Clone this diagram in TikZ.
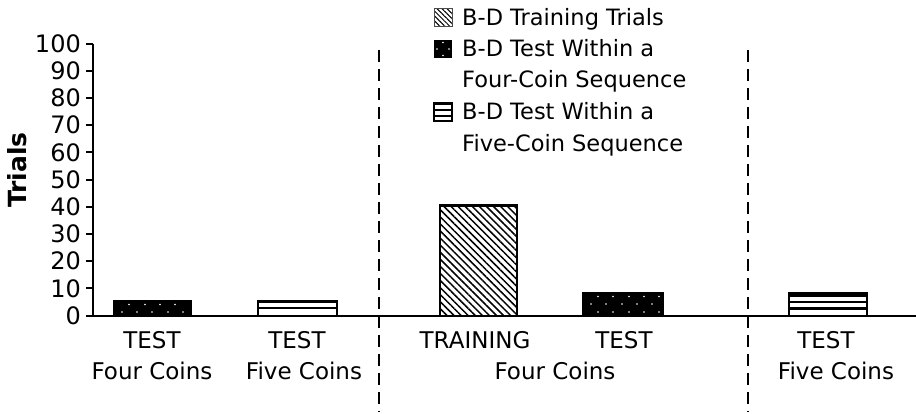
\documentclass[tikz,border=0pt]{standalone}
\usepackage{fontspec}
\setmainfont{DejaVu Sans}
\usetikzlibrary{patterns.meta}
\begin{document}
\begin{tikzpicture}[x=1pt,y=-1pt,
  axisline/.style={line width=2pt},
  divider/.style={line width=2pt, dash pattern=on 12pt off 7pt},
  barframe/.style={draw=black, line width=2.2pt},
  hatchfill/.style={pattern={Lines[angle=-45,distance=5pt,line width=1.5pt]}},
  ticklab/.style={font=\fontsize{24}{26}\selectfont, anchor=east, inner sep=0pt},
  catlab/.style={font=\fontsize{23}{26}\selectfont, inner sep=0pt},
  leglab/.style={font=\fontsize{22.5}{31}\selectfont, anchor=base west, inner sep=0pt, align=left},
  wdot/.style={fill=white, draw=none}
]
\useasboundingbox (0,0) rectangle (916,413);

% axis
\draw[axisline] (93,43.5) -- (93,316);
\draw[axisline] (86,316) -- (916,316);
\foreach \v in {0,10,...,100}{
  \draw[axisline] (86,{315.5-2.72*\v}) -- (93,{315.5-2.72*\v});
  \node[ticklab] (t\v) at (81,{315.5-2.72*\v}) {\v};
}
\node[rotate=90, font=\bfseries\fontsize{25}{28}\selectfont, inner sep=0pt] (ylab) at (17,170) {Trials};

% dividers
\draw[divider] (379,50) -- (379,412);
\draw[divider] (748,50) -- (748,412);

% bar 1: four-coin test (black, white dots)
\fill[black] (114,301) rectangle (191,316);
\foreach \x in {129,145,160,175} \fill[wdot] (\x,304.5) circle (0.9);
\foreach \x in {122,137,152,168,183} \fill[wdot] (\x,312) circle (0.9);
\draw[barframe] (114,301.5) rectangle (191,316);

% bar 2: five-coin test (stripes)
\begin{scope}
  \clip (258,301) rectangle (337,316);
  \fill[white] (258,301) rectangle (337,316);
  \foreach \y in {302,308} \draw[line width=2.6pt] (250,\y) -- (345,\y);
\end{scope}
\draw[barframe] (258,301.5) rectangle (337,316);

% bar 3: training (hatched)
\fill[white] (440,205) rectangle (517,316);
\fill[hatchfill] (440,205) rectangle (517,316);
\draw[barframe] (440,205.5) rectangle (517,316);

% bar 4: four-coin test
\fill[black] (583,292) rectangle (663,316);
\foreach \x in {598,613,629,644,659} {\fill[wdot] (\x,296.5) circle (0.9); \fill[wdot] (\x,312) circle (0.9);}
\foreach \x in {591,606,622,637,652} \fill[wdot] (\x,304) circle (0.9);
\draw[barframe] (583,293) rectangle (663,316);

% bar 5: five-coin test
\begin{scope}
  \clip (789,292) rectangle (867,316);
  \fill[white] (789,292) rectangle (867,316);
  \draw[line width=3.5pt] (780,295.5) -- (875,295.5);
  \foreach \y in {302.2,308.3} \draw[line width=2.5pt] (780,\y) -- (875,\y);
\end{scope}
\draw[barframe] (789,293) rectangle (867,316);

% category labels
\node[catlab] (c1a) at (152,340) {TEST};
\node[catlab] (c1b) at (152,371) {Four Coins};
\node[catlab] (c2a) at (297,340) {TEST};
\node[catlab] (c2b) at (304,371) {Five Coins};
\node[catlab] (c3a) at (475,340) {TRAINING};
\node[catlab] (c4a) at (624,340) {TEST};
\node[catlab] (c34b) at (555,371) {Four Coins};
\node[catlab] (c5a) at (826,340) {TEST};
\node[catlab] (c5b) at (836,371) {Five Coins};

% legend
\fill[white] (434,8) rectangle (452,26);
\fill[pattern={Lines[angle=-45,distance=3.5pt,line width=1pt]}] (434,8) rectangle (452,26);
\draw[line width=1pt, black!70] (434,8) rectangle (452,26);
\node[leglab] (l1) at (462,25) {B-D Training Trials};

\fill[black] (434,40) rectangle (452,58);
\foreach \p in {(443,42.5),(437,49),(449,49),(443,55.5)} \fill[wdot] \p circle (0.8);
\node[leglab] (l2) at (462,87) {B-D Test Within a\\Four-Coin Sequence};

\begin{scope}
  \clip (434,103) rectangle (452,121);
  \fill[white] (434,103) rectangle (452,121);
  \foreach \y in {104,110,116,122} \draw[line width=2.4pt] (430,\y) -- (456,\y);
\end{scope}
\draw[line width=1.5pt] (434,103) rectangle (452,121);
\node[leglab] (l3) at (462,151) {B-D Test Within a\\[1pt]Five-Coin Sequence};
\end{tikzpicture}
\end{document}
